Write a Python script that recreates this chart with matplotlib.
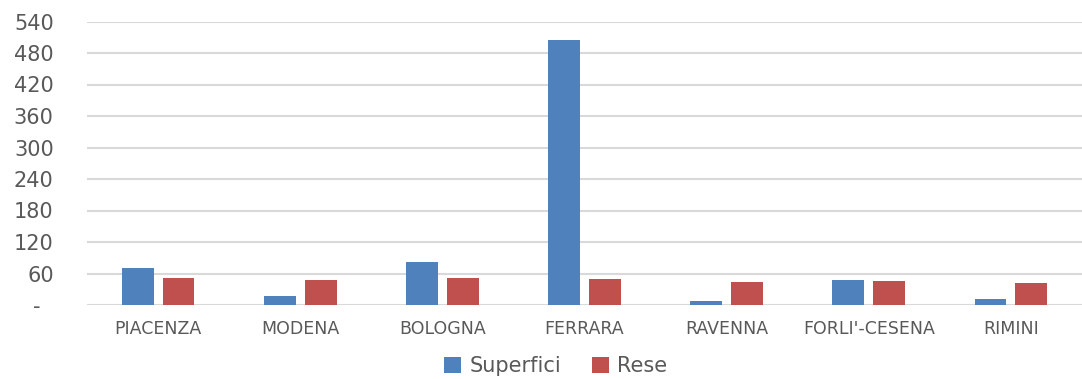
import matplotlib
matplotlib.use("Agg")
import matplotlib.pyplot as plt
import numpy as np
from matplotlib.ticker import FixedLocator, FuncFormatter

categories = ["PIACENZA", "MODENA", "BOLOGNA", "FERRARA", "RAVENNA", "FORLI'-CESENA", "RIMINI"]
superfici = [70, 18, 81, 505, 7, 47, 11]
rese = [51, 47, 51, 49, 43, 45, 41]
yticks = [0, 60, 120, 180, 240, 300, 360, 420, 480, 540]

plt.rcParams['font.family'] = ['DejaVu Sans']

fig = plt.figure(figsize=(10.82, 3.79), dpi=100)
ax = fig.add_axes([87/1082, 74/379, (1082-87)/1082, (305-21.5)/379])

x = np.arange(len(categories))
w = 0.224
off = 0.144
ax.bar(x - off, superfici, w, color="#4F81BD", label="Superfici", zorder=3)
ax.bar(x + off, rese, w, color="#C0504D", label="Rese", zorder=3)

ax.set_xlim(-0.5, len(categories) - 0.5)
ax.set_ylim(0, 540)
ax.yaxis.set_major_locator(FixedLocator(yticks))
ax.yaxis.set_major_formatter(FuncFormatter(lambda v, p: "-  " if v == 0 else f"{int(v)}"))
ax.set_xticks(x)
ax.set_xticklabels(categories)
ax.grid(axis='y', color="#D9D9D9", linewidth=1.5, zorder=0)
for s in ax.spines.values():
    s.set_visible(False)
ax.tick_params(axis='y', length=0, pad=24, labelsize=15, labelcolor="#595959")
ax.tick_params(axis='x', length=0, pad=11, labelsize=12.5, labelcolor="#595959")

fig.legend(loc='center', bbox_to_anchor=(556/1082, 1 - 366/379), ncol=2, frameon=False,
           fontsize=15, labelcolor="#595959", handlelength=0.8, handleheight=0.8,
           columnspacing=1.5, handletextpad=0.4, borderpad=0.1)

fig.savefig("out.png", dpi=100)
